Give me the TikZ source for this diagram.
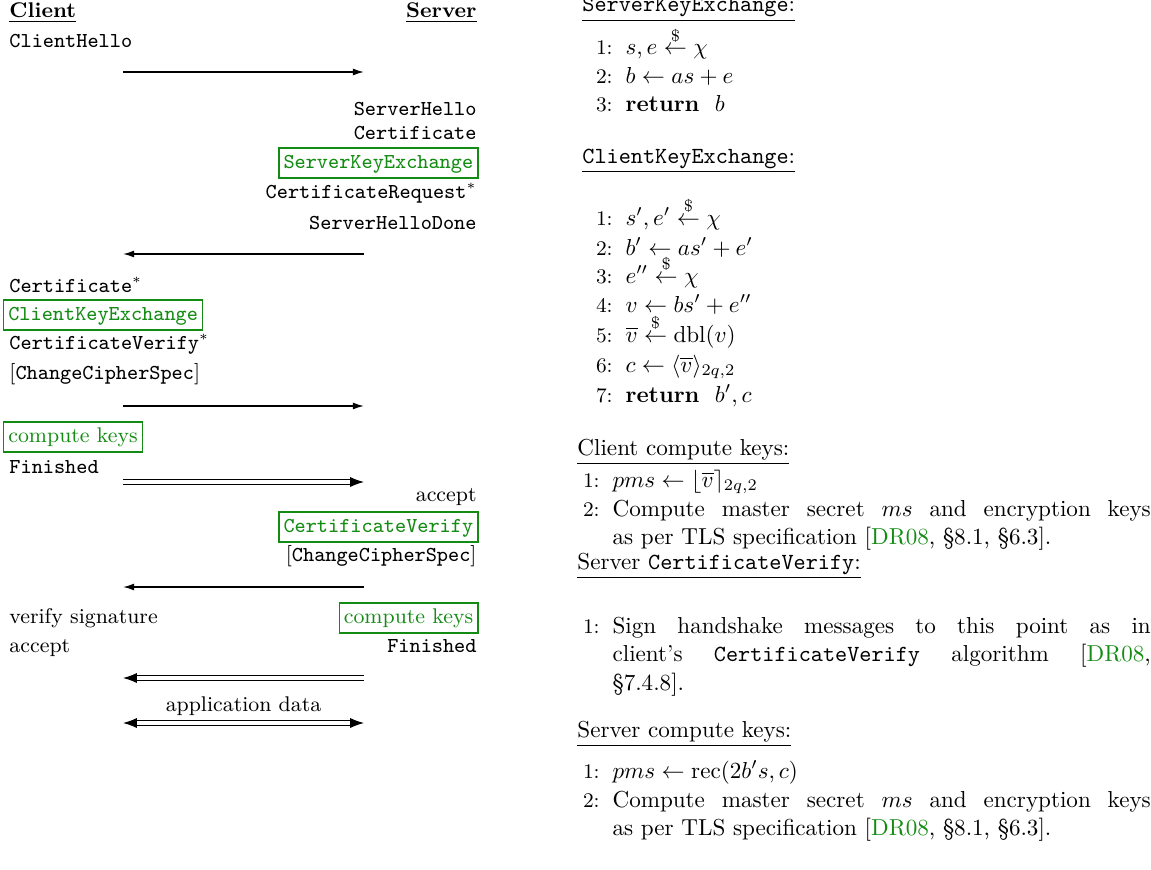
\documentclass[tikz,border=0pt]{standalone}
\usepackage{amsmath}
\usepackage{amssymb}
\usepackage{xcolor}
\usepackage{tikz}
\usetikzlibrary{arrows.meta}
\definecolor{keygreen}{RGB}{20,140,20}
\newcommand\lfont{\fontsize{9.2}{11}\selectfont}
\newcommand\refDR{\textcolor{keygreen}{DR08}}
\newcommand\algline[2]{\makebox[7pt][r]{\small #1:}\hspace{5.6pt}#2}
\newcommand\algpar[1]{\parbox[t]{233pt}{\setlength\baselineskip{12.5pt}#1}}
\tikzset{
  msg/.style={font=\lfont},
  keymsg/.style={
    font=\lfont,
    draw=keygreen,
    text=keygreen,
    line width=0.6pt,
    inner xsep=2pt,
    inner ysep=2.4pt,
    text height=6.3pt,
    text depth=1.9pt
  },
  alg/.style={anchor=base west},
  tomsg/.style={line width=0.6pt, -{Latex[length=4.8pt,width=3pt]}},
  dblmsg/.style={
    double,
    double distance=1.4pt,
    line width=0.5pt,
    -{Latex[length=6pt,width=4.4pt]}
  },
  dblboth/.style={
    dblmsg,
    {Latex[length=6pt,width=4.4pt]}-{Latex[length=6pt,width=4.4pt]}
  }
}
\begin{document}
\begin{tikzpicture}[x=0.4329pt, y=-0.4329pt, every node/.style={inner sep=0pt}]
\newcommand\XC{9}
\newcommand\XS{477}
\newcommand\XCbox{3}
\newcommand\XSbox{478.5}
\newcommand\XL{123}
\newcommand\XR{364}
\useasboundingbox (0,0) rectangle (1151,869);
% handshake messages
\node[msg, anchor=base west] (Client) at (\XC,18) {\underline{\textbf{Client}}};
\node[msg, anchor=base east] (Server) at (\XS,18) {\underline{\textbf{Server}}};
\node[msg, anchor=base west] (CHello) at (\XC,48) {\texttt{ClientHello}};
\node[msg, anchor=base east] (SHello) at (\XS,115) {\texttt{ServerHello}};
\node[msg, anchor=base east] (SCert) at (\XS,140) {\texttt{Certificate}};
\node[keymsg, anchor=base east] (SKE) at (\XSbox,168) {\texttt{ServerKeyExchange}};
\node[msg, anchor=base east] (SCReq) at (\XS,198) {\texttt{CertificateRequest}$^*$};
\node[msg, anchor=base east] (SDone) at (\XS,229) {\texttt{ServerHelloDone}};
\node[msg, anchor=base west] (CCert) at (\XC,292) {\texttt{Certificate}$^*$};
\node[keymsg, anchor=base west] (CKE) at (\XCbox,320) {\texttt{ClientKeyExchange}};
\node[msg, anchor=base west] (CCVer) at (\XC,349) {\texttt{CertificateVerify}$^*$};
\node[msg, anchor=base west] (CCCS) at (\XC,379) {[\texttt{ChangeCipherSpec}]};
\node[keymsg, anchor=base west] (CKeys) at (\XCbox,442) {compute keys};
\node[msg, anchor=base west] (CFin) at (\XC,473) {\texttt{Finished}};
\node[msg, anchor=base east] (SAcc) at (\XS,501) {accept};
\node[keymsg, anchor=base east] (SCV) at (\XSbox,532) {\texttt{CertificateVerify}};
\node[msg, anchor=base east] (SCCS) at (\XS,561) {[\texttt{ChangeCipherSpec}]};
\node[msg, anchor=base west] (CVSig) at (\XC,623) {verify signature};
\node[keymsg, anchor=base east] (SKeys) at (\XSbox,623) {compute keys};
\node[msg, anchor=base west] (CAcc) at (\XC,652) {accept};
\node[msg, anchor=base east] (SFin) at (\XS,652) {\texttt{Finished}};
\node[msg, anchor=base] (AppData) at (243.5,711) {application data};

\foreach \n/\y in {1/72, 2/254, 3/406, 4/482, 5/587, 6/678, 7/723}{
  \coordinate (L\n) at (\XL,\y);
  \coordinate (R\n) at (\XR,\y);
}
\path (L1) edge[tomsg] (R1)
      (R2) edge[tomsg] (L2)
      (L3) edge[tomsg] (R3)
      (L4) edge[dblmsg] (R4)
      (R5) edge[tomsg] (L5)
      (R6) edge[dblmsg] (L6)
      (L7) edge[dblboth] (R7);

% algorithms
\node[alg] (HSKE) at (582,12) {\underline{\texttt{ServerKeyExchange}:}};
\node[alg] (SKE1) at (596,55) {\algline{1}{$s, e \stackrel{\$}{\leftarrow} \chi$}};
\node[alg] (SKE2) at (596,83.5) {\algline{2}{$b \leftarrow as + e$}};
\node[alg] (SKE3) at (596,112) {\algline{3}{\textbf{return}\ \ $b$}};
\node[alg] (HCKE) at (582,163) {\underline{\texttt{ClientKeyExchange}:}};
\node[alg] (CKE1) at (596,225) {\algline{1}{$s', e' \stackrel{\$}{\leftarrow} \chi$}};
\node[alg] (CKE2) at (596,255) {\algline{2}{$b' \leftarrow as' + e'$}};
\node[alg] (CKE3) at (596,283) {\algline{3}{$e'' \stackrel{\$}{\leftarrow} \chi$}};
\node[alg] (CKE4) at (596,312) {\algline{4}{$v \leftarrow bs' + e''$}};
\node[alg] (CKE5) at (596,342) {\algline{5}{$\overline{v} \stackrel{\$}{\leftarrow} \mathrm{dbl}(v)$}};
\node[alg] (CKE6) at (596,372) {\algline{6}{$c \leftarrow \langle \overline{v} \rangle_{2q,2}$}};
\node[alg] (CKE7) at (596,402) {\algline{7}{\textbf{return}\ \ $b', c$}};
\node[alg] (HCCK) at (577,455) {\underline{Client compute keys:}};
\node[alg] (CCK1) at (583,487) {\algline{1}{$pms \leftarrow \lfloor \overline{v} \rceil_{2q,2}$}};
\node[alg] (CCK2) at (583,516) {\algline{2}{\algpar{Compute master secret $ms$ and encryption keys\linebreak as per TLS specification [\refDR, \S8.1, \S6.3].}}};
\node[alg] (HSCV) at (577,569) {\underline{Server \texttt{CertificateVerify}:}};
\node[alg] (SCV1) at (583,633) {\algline{1}{\algpar{Sign handshake messages to this point as in\linebreak client's \texttt{CertificateVerify} algorithm [\refDR,\linebreak \S7.4.8].}}};
\node[alg] (HSCK) at (577,737) {\underline{Server compute keys:}};
\node[alg] (SCK1) at (583,778) {\algline{1}{$pms \leftarrow \mathrm{rec}(2b's, c)$}};
\node[alg] (SCK2) at (583,807) {\algline{2}{\algpar{Compute master secret $ms$ and encryption keys\linebreak as per TLS specification [\refDR, \S8.1, \S6.3].}}};
\end{tikzpicture}
\end{document}
